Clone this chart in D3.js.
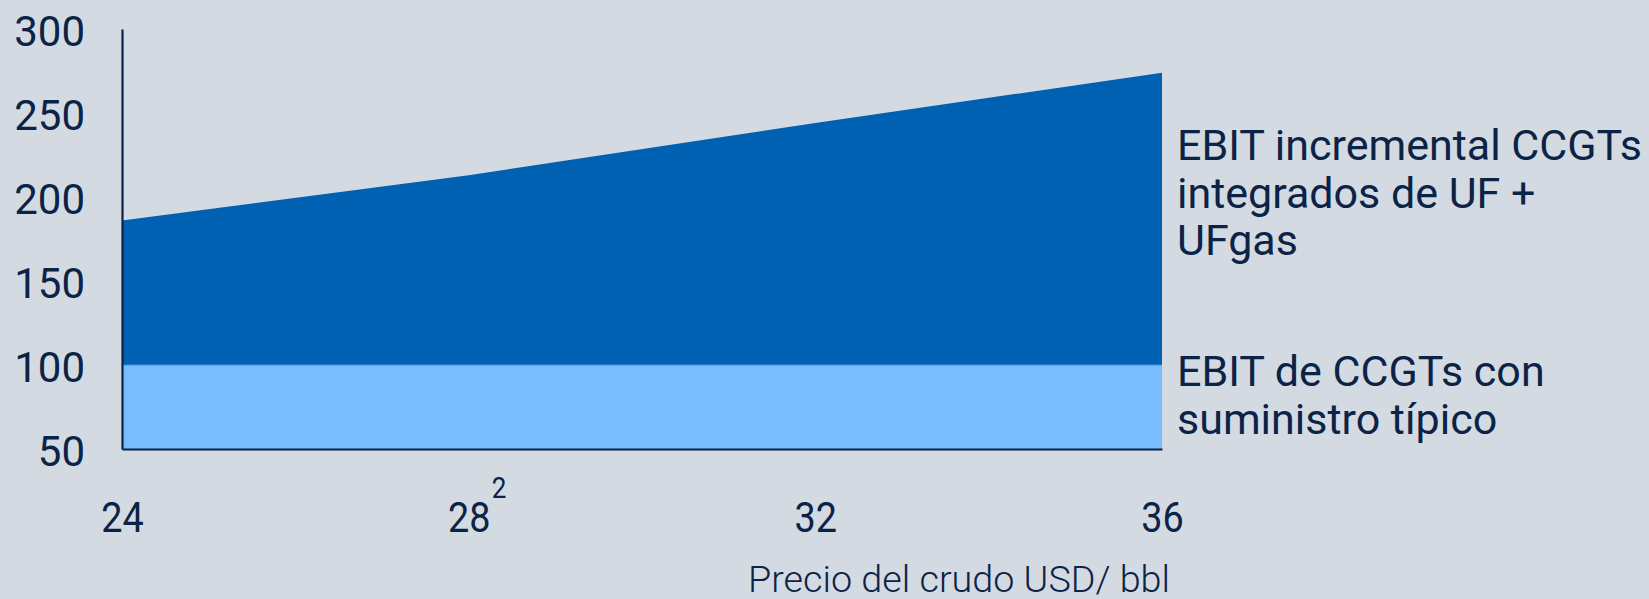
<!DOCTYPE html>
<html lang="es">
<head>
<meta charset="UTF-8">
<title>EBIT CCGTs</title>
<style>
  html, body { margin: 0; padding: 0; background: #d3dae2; }
  svg text { font-family: Roboto, "Noto Sans", sans-serif; fill: #0b2346; }
</style>
</head>
<body>
<script src="https://d3js.org/d3.v7.min.js"></script>
<script>
// datos
let prices = [24, 28, 32, 36];
let ebitTipico = [100, 100, 100, 100];
let ebitIncremental = [86, 113, 144, 174];
let yTicks = [50, 100, 150, 200, 250, 300];
let labelTipico = ["EBIT de CCGTs con", "suministro típico"];
let labelIncremental = ["EBIT incremental CCGTs", "integrados de UF +", "UFgas"];
let xTitle = "Precio del crudo USD/ bbl";

let svgWidth = 1649;
let svgHeight = 599;

let x = d3.scaleLinear().domain([24, 36]).range([122, 1162]);
let y = d3.scaleLinear().domain([50, 300]).range([449, 29]);

let svg = d3.select("body")
  .append("svg")
  .attr("width", svgWidth)
  .attr("height", svgHeight)
  .style("display", "block");

svg.append("rect")
  .attr("width", svgWidth)
  .attr("height", svgHeight)
  .attr("fill", "#d3dae2");

let rows = prices.map((p, i) => ({ price: p, tipico: ebitTipico[i], incremental: ebitIncremental[i] }));
let series = d3.stack().keys(["tipico", "incremental"])(rows);
let colors = { tipico: "#7abdff", incremental: "#0060b1" };

let area = d3.area()
  .x(d => x(d.data.price))
  .y0(d => y(Math.max(d[0], y.domain()[0])))
  .y1(d => y(d[1]));

svg.selectAll(".layer")
  .data(series)
  .enter().append("path")
  .attr("class", "layer")
  .attr("fill", d => colors[d.key])
  .attr("d", area);

// linea fina entre capas
svg.append("path")
  .datum(series[0])
  .attr("fill", "none")
  .attr("stroke", "#3d8fdc")
  .attr("stroke-width", 1.2)
  .attr("d", d3.line().x(d => x(d.data.price)).y(d => y(d[1])));

// eje y
let yAxis = svg.append("g")
  .attr("transform", "translate(" + x.range()[0] + ",0)")
  .call(d3.axisLeft(y).tickValues(yTicks).tickSize(0).tickSizeOuter(0).tickPadding(37));
yAxis.select(".domain").attr("stroke", "#0b2346").attr("stroke-width", 2.2);
yAxis.selectAll("text")
  .attr("font-size", 42)
  .attr("dy", "0.4em")
  .attr("fill", "#0b2346")
  .style("font-family", "Roboto");

// eje x
let xAxis = svg.append("g")
  .attr("transform", "translate(0," + y.range()[0] + ")")
  .call(d3.axisBottom(x).tickValues(prices).tickSize(0).tickSizeOuter(0).tickPadding(53));
xAxis.select(".domain").attr("stroke", "#0b2346").attr("stroke-width", 2.2);
xAxis.selectAll("text")
  .attr("font-size", 42)
  .attr("fill", "#0b2346")
  .attr("transform", "scale(0.9,1)")
  .style("font-family", "Roboto");

// superindice del 28
xAxis.selectAll(".tick")
  .filter(d => d === 28)
  .append("text")
  .attr("x", 25)
  .attr("y", 49)
  .attr("font-size", 29)
  .attr("fill", "#0b2346")
  .attr("transform", "scale(0.9,1)")
  .attr("text-anchor", "start")
  .style("font-family", "Roboto")
  .text("2");

// titulo eje x
svg.append("text")
  .attr("x", 1170)
  .attr("y", 592)
  .attr("text-anchor", "end")
  .attr("font-size", 37)
  .attr("font-weight", 300)
  .attr("textLength", 422)
  .attr("lengthAdjust", "spacingAndGlyphs")
  .text(xTitle);

// etiquetas de las series
let legendX = x.range()[1] + 15;
labelIncremental.forEach((t, i) => {
  svg.append("text")
    .attr("x", legendX)
    .attr("y", 160 + i * 47.5)
    .attr("font-size", 43)
    .text(t);
});
labelTipico.forEach((t, i) => {
  svg.append("text")
    .attr("x", legendX)
    .attr("y", 386 + i * 47.5)
    .attr("font-size", 43)
    .text(t);
});
</script>
</body>
</html>
